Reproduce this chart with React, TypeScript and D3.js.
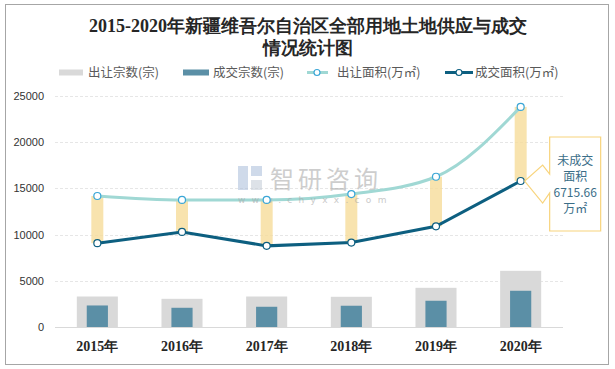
import React, { useEffect, useRef } from "react";
import * as d3 from "d3";

const years = ["2015年", "2016年", "2017年", "2018年", "2019年", "2020年"];
const supplyCount = [3300, 3050, 3300, 3270, 4240, 6080];
const dealCount = [2330, 2080, 2190, 2300, 2840, 3920];
const supplyArea = [14180, 13750, 13750, 14390, 16260, 23820];
const dealArea = [9070, 10290, 8780, 9140, 10900, 15800];
const yTicks = [0, 5000, 10000, 15000, 20000, 25000];
const legendItems = ["出让宗数(宗)", "成交宗数(宗)", "出让面积(万㎡)", "成交面积(万㎡)"];
const calloutLines = ["未成交", "面积", "6715.66", "万㎡"];

const W = 615;
const H = 369;

export default function App() {
  const svgRef = useRef<SVGSVGElement>(null);

  useEffect(() => {
    if (!svgRef.current) return;
    const svg = d3.select(svgRef.current);
    svg.selectAll("*").remove();

    const margin = { top: 96, right: 52, bottom: 42, left: 55 };
    const x = d3
      .scaleBand()
      .domain(years)
      .range([margin.left, W - margin.right])
      .padding(0);
    const y = d3
      .scaleLinear()
      .domain([0, 25000])
      .range([H - margin.bottom, margin.top]);
    const cx = (d: string) => (x(d) as number) + x.bandwidth() / 2;

    // outer frame
    svg
      .append("rect")
      .attr("x", 5.5)
      .attr("y", 4.5)
      .attr("width", 603)
      .attr("height", 360)
      .attr("fill", "#fff")
      .attr("stroke", "#a6a6a6");

    // title
    const title = svg
      .append("text")
      .attr("text-anchor", "middle")
      .attr("font-family", "'Liberation Serif', 'DejaVu Serif', serif")
      .attr("font-weight", "bold")
      .attr("font-size", 18)
      .attr("fill", "#262626");
    title.append("tspan").attr("x", 308).attr("y", 32).text("2015-2020年新疆维吾尔自治区全部用地土地供应与成交");
    title.append("tspan").attr("x", 308).attr("y", 54).text("情况统计图");

    // legend
    const lg = svg.append("g").attr("font-family", "'Noto Sans CJK SC', sans-serif").attr("font-size", 12.5).attr("fill", "#595959");
    const lgY = 72.5;
    lg.append("rect").attr("x", 59).attr("y", lgY - 3).attr("width", 24).attr("height", 6).attr("fill", "#d9d9d9");
    lg.append("text").attr("x", 88).attr("y", lgY + 4.5).text(legendItems[0]);
    lg.append("rect").attr("x", 183).attr("y", lgY - 3).attr("width", 26).attr("height", 6).attr("fill", "#5b8fa6");
    lg.append("text").attr("x", 213).attr("y", lgY + 4.5).text(legendItems[1]);
    lg.append("line").attr("x1", 307).attr("x2", 328).attr("y1", lgY).attr("y2", lgY).attr("stroke", "#a0d8d4").attr("stroke-width", 3);
    lg.append("circle").attr("cx", 317).attr("cy", lgY).attr("r", 3).attr("fill", "#fff").attr("stroke", "#3aa6d6").attr("stroke-width", 1.2);
    lg.append("text").attr("x", 337).attr("y", lgY + 4.5).text(legendItems[2]);
    lg.append("line").attr("x1", 445).attr("x2", 473).attr("y1", lgY).attr("y2", lgY).attr("stroke", "#0d5f80").attr("stroke-width", 3);
    lg.append("circle").attr("cx", 459).attr("cy", lgY).attr("r", 3).attr("fill", "#fff").attr("stroke", "#0d5f80").attr("stroke-width", 1.2);
    lg.append("text").attr("x", 475).attr("y", lgY + 4.5).text(legendItems[3]);

    // grid
    svg
      .append("g")
      .selectAll("line")
      .data(yTicks.filter((t) => t > 0))
      .join("line")
      .attr("x1", margin.left)
      .attr("x2", W - margin.right)
      .attr("y1", (d) => Math.round(y(d)) + 0.5)
      .attr("y2", (d) => Math.round(y(d)) + 0.5)
      .attr("stroke", "#e6e6e6")
      .attr("stroke-dasharray", "3,2");

    // y labels
    svg
      .append("g")
      .selectAll("text")
      .data(yTicks)
      .join("text")
      .attr("x", 44)
      .attr("y", (d) => y(d) + 4)
      .attr("text-anchor", "end")
      .attr("font-family", "'Liberation Sans', Arial, sans-serif")
      .attr("font-size", 11)
      .attr("fill", "#333")
      .text((d) => String(d));

    // watermark
    const wm = svg.append("g").attr("opacity", 0.55);
    wm.append("rect").attr("x", 238).attr("y", 166).attr("width", 10).attr("height", 24).attr("fill", "#a9bcd9");
    wm.append("rect").attr("x", 251).attr("y", 166).attr("width", 11).attr("height", 10).attr("fill", "#a9bcd9");
    wm.append("rect").attr("x", 251).attr("y", 180).attr("width", 11).attr("height", 10).attr("fill", "#c2cbd6");
    wm.append("text")
      .attr("x", 270)
      .attr("y", 188)
      .attr("font-family", "'Noto Sans CJK SC', sans-serif")
      .attr("font-size", 24)
      .attr("fill", "#a6a6a6")
      .attr("letter-spacing", 4)
      .text("智研咨询");

    // bars
    const gw = x.bandwidth() * 0.485;
    const bw = x.bandwidth() * 0.25;
    svg
      .append("g")
      .selectAll("rect")
      .data(years)
      .join("rect")
      .attr("x", (d) => cx(d) - gw / 2)
      .attr("y", (d, i) => y(supplyCount[i]))
      .attr("width", gw)
      .attr("height", (d, i) => y(0) - y(supplyCount[i]))
      .attr("fill", "#d9d9d9");
    svg
      .append("g")
      .selectAll("rect")
      .data(years)
      .join("rect")
      .attr("x", (d) => cx(d) - bw / 2)
      .attr("y", (d, i) => y(dealCount[i]))
      .attr("width", bw)
      .attr("height", (d, i) => y(0) - y(dealCount[i]))
      .attr("fill", "#5b8fa6");

    // baseline
    svg
      .append("line")
      .attr("x1", margin.left)
      .attr("x2", W - margin.right)
      .attr("y1", Math.round(y(0)) + 0.5)
      .attr("y2", Math.round(y(0)) + 0.5)
      .attr("stroke", "#d9d9d9");

    // gap bars between supply and deal areas
    svg
      .append("g")
      .selectAll("rect")
      .data(years)
      .join("rect")
      .attr("x", (d) => cx(d) - 6)
      .attr("y", (d, i) => y(supplyArea[i]))
      .attr("width", 12)
      .attr("height", (d, i) => y(dealArea[i]) - y(supplyArea[i]))
      .attr("fill", "#f6dc9a")
      .attr("opacity", 0.8);

    // lines
    const supplyLine = d3
      .line<number>()
      .x((d, i) => cx(years[i]))
      .y((d) => y(d))
      .curve(d3.curveMonotoneX);
    const dealLine = d3
      .line<number>()
      .x((d, i) => cx(years[i]))
      .y((d) => y(d));
    svg.append("path").attr("d", supplyLine(supplyArea)).attr("fill", "none").attr("stroke", "#a0d8d4").attr("stroke-width", 3);
    svg.append("path").attr("d", dealLine(dealArea)).attr("fill", "none").attr("stroke", "#0d5f80").attr("stroke-width", 3);

    // watermark url sits over the lines
    svg
      .append("text")
      .attr("x", 238)
      .attr("y", 203)
      .attr("font-family", "'DejaVu Sans', sans-serif")
      .attr("font-size", 9)
      .attr("fill", "#a6a6a6")
      .attr("opacity", 0.6)
      .attr("letter-spacing", 6.3)
      .text("www.chyxx.com");

    svg
      .append("g")
      .selectAll("circle")
      .data(supplyArea)
      .join("circle")
      .attr("cx", (d, i) => cx(years[i]))
      .attr("cy", (d) => y(d))
      .attr("r", 3.5)
      .attr("fill", "#fff")
      .attr("stroke", "#3aa6d6")
      .attr("stroke-width", 1.2);
    svg
      .append("g")
      .selectAll("circle")
      .data(dealArea)
      .join("circle")
      .attr("cx", (d, i) => cx(years[i]))
      .attr("cy", (d) => y(d))
      .attr("r", 3.5)
      .attr("fill", "#fff")
      .attr("stroke", "#0d5f80")
      .attr("stroke-width", 1.2);

    // callout on last year
    const px = cx(years[5]);
    const py = y(dealArea[5]);
    const bx = px + 29;
    const by = py - 44;
    const bwid = 51;
    const bh = 94;
    const path = [
      [bx, by],
      [bx + bwid, by],
      [bx + bwid, by + bh],
      [bx, by + bh],
      [bx, py + 12],
      [px + 22, py + 22],
      [px + 4, py],
      [px + 22, py - 16],
      [bx, py - 7],
    ];
    svg
      .append("path")
      .attr("d", "M" + path.map((p) => p.join(",")).join("L") + "Z")
      .attr("fill", "#fff")
      .attr("stroke", "#f8d47c")
      .attr("stroke-width", 1.2);
    svg
      .append("g")
      .selectAll("text")
      .data(calloutLines)
      .join("text")
      .attr("x", bx + bwid / 2)
      .attr("y", (d, i) => by + 28 + i * 16)
      .attr("text-anchor", "middle")
      .attr("font-family", "'Noto Sans CJK SC', sans-serif")
      .attr("font-size", 12)
      .attr("fill", "#3b6e88")
      .text((d) => d);

    // x labels
    svg
      .append("g")
      .selectAll("text")
      .data(years)
      .join("text")
      .attr("x", (d) => cx(d))
      .attr("y", 351)
      .attr("text-anchor", "middle")
      .attr("font-family", "'Liberation Serif', 'DejaVu Serif', serif")
      .attr("font-weight", "bold")
      .attr("font-size", 14)
      .attr("fill", "#262626")
      .text((d) => d);
  }, []);

  return (
    <div style={{ position: "absolute", left: 0, top: 0 }}>
      <svg ref={svgRef} width={W} height={H} style={{ display: "block" }}></svg>
    </div>
  );
}
